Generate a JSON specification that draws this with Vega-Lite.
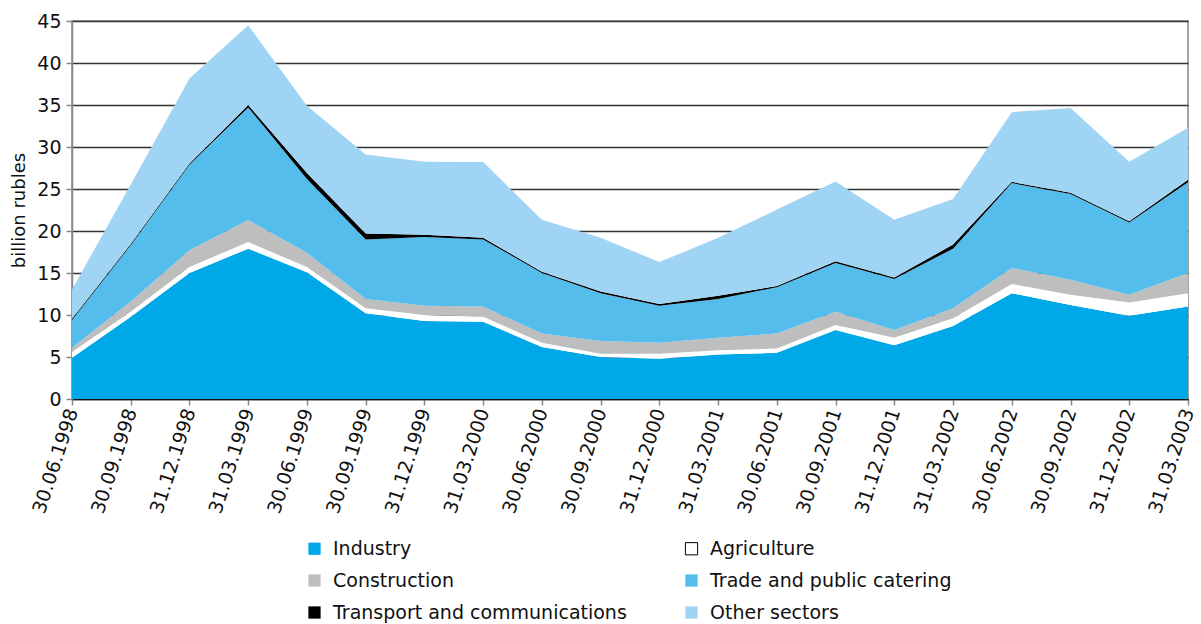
{
  "$schema": "https://vega.github.io/schema/vega-lite/v6.json",
  "width": 1116,
  "height": 378,
  "autosize": {"type": "none"},
  "padding": {"left": 72, "top": 21, "right": 13, "bottom": 225},
  "background": "white",
  "config": {
    "font": "DejaVu Sans",
    "view": {"stroke": "#888888", "strokeWidth": 1.5},
    "axis": {"labelFont": "DejaVu Sans", "titleFont": "DejaVu Sans", "labelColor": "#111111", "titleColor": "#111111", "titleFontWeight": "normal"},
    "legend": {"labelFont": "DejaVu Sans"}
  },
  "data": {
    "values": [
      {"date": "30.06.1998", "Industry": 4.9, "Agriculture": 0.7, "Construction": 0.5, "Trade and public catering": 3.3, "Transport and communications": 0.15, "Other sectors": 3.5},
      {"date": "30.09.1998", "Industry": 9.8, "Agriculture": 0.6, "Construction": 1.2, "Trade and public catering": 6.7, "Transport and communications": 0.15, "Other sectors": 7.1},
      {"date": "31.12.1998", "Industry": 15.0, "Agriculture": 0.7, "Construction": 2.0, "Trade and public catering": 10.2, "Transport and communications": 0.15, "Other sectors": 10.1},
      {"date": "31.03.1999", "Industry": 17.9, "Agriculture": 0.8, "Construction": 2.6, "Trade and public catering": 13.4, "Transport and communications": 0.3, "Other sectors": 9.5},
      {"date": "30.06.1999", "Industry": 15.1, "Agriculture": 0.6, "Construction": 1.7, "Trade and public catering": 8.8, "Transport and communications": 0.7, "Other sectors": 8.0},
      {"date": "30.09.1999", "Industry": 10.2, "Agriculture": 0.6, "Construction": 1.1, "Trade and public catering": 7.1, "Transport and communications": 0.7, "Other sectors": 9.4},
      {"date": "31.12.1999", "Industry": 9.3, "Agriculture": 0.7, "Construction": 1.1, "Trade and public catering": 8.2, "Transport and communications": 0.25, "Other sectors": 8.7},
      {"date": "31.03.2000", "Industry": 9.2, "Agriculture": 0.6, "Construction": 1.2, "Trade and public catering": 8.0, "Transport and communications": 0.2, "Other sectors": 9.0},
      {"date": "30.06.2000", "Industry": 6.2, "Agriculture": 0.5, "Construction": 1.1, "Trade and public catering": 7.2, "Transport and communications": 0.15, "Other sectors": 6.2},
      {"date": "30.09.2000", "Industry": 5.0, "Agriculture": 0.4, "Construction": 1.5, "Trade and public catering": 5.7, "Transport and communications": 0.2, "Other sectors": 6.4},
      {"date": "31.12.2000", "Industry": 4.8, "Agriculture": 0.6, "Construction": 1.3, "Trade and public catering": 4.4, "Transport and communications": 0.2, "Other sectors": 5.0},
      {"date": "31.03.2001", "Industry": 5.3, "Agriculture": 0.5, "Construction": 1.5, "Trade and public catering": 4.6, "Transport and communications": 0.4, "Other sectors": 6.9},
      {"date": "30.06.2001", "Industry": 5.5, "Agriculture": 0.5, "Construction": 1.8, "Trade and public catering": 5.5, "Transport and communications": 0.15, "Other sectors": 9.1},
      {"date": "30.09.2001", "Industry": 8.2, "Agriculture": 0.6, "Construction": 1.6, "Trade and public catering": 5.8, "Transport and communications": 0.2, "Other sectors": 9.5},
      {"date": "31.12.2001", "Industry": 6.4, "Agriculture": 0.9, "Construction": 0.9, "Trade and public catering": 6.1, "Transport and communications": 0.15, "Other sectors": 6.9},
      {"date": "31.03.2002", "Industry": 8.7, "Agriculture": 0.9, "Construction": 1.2, "Trade and public catering": 7.1, "Transport and communications": 0.5, "Other sectors": 5.4},
      {"date": "30.06.2002", "Industry": 12.6, "Agriculture": 1.1, "Construction": 1.9, "Trade and public catering": 10.1, "Transport and communications": 0.15, "Other sectors": 8.3},
      {"date": "30.09.2002", "Industry": 11.2, "Agriculture": 1.2, "Construction": 1.8, "Trade and public catering": 10.2, "Transport and communications": 0.15, "Other sectors": 10.1},
      {"date": "31.12.2002", "Industry": 9.9, "Agriculture": 1.6, "Construction": 0.9, "Trade and public catering": 8.6, "Transport and communications": 0.15, "Other sectors": 7.1},
      {"date": "31.03.2003", "Industry": 11.0, "Agriculture": 1.6, "Construction": 2.4, "Trade and public catering": 10.8, "Transport and communications": 0.3, "Other sectors": 6.2}
    ]
  },
  "transform": [
    {"fold": ["Industry", "Agriculture", "Construction", "Trade and public catering", "Transport and communications", "Other sectors"], "as": ["sector", "value"]},
    {"calculate": "indexof(['Industry', 'Agriculture', 'Construction', 'Trade and public catering', 'Transport and communications', 'Other sectors'], datum.sector)", "as": "stackIndex"}
  ],
  "mark": {"type": "area", "interpolate": "linear"},
  "encoding": {
    "x": {
      "field": "date", "type": "ordinal", "sort": null,
      "scale": {"type": "point", "padding": 0},
      "axis": {
        "title": null, "labelAngle": -72, "labelFontSize": 19, "labelAlign": "right", "labelBaseline": "middle",
        "labelPadding": 4, "tickSize": 6, "tickColor": "#888888", "tickWidth": 1.5,
        "domainColor": "#111111", "domainWidth": 1.5, "grid": false
      }
    },
    "y": {
      "field": "value", "type": "quantitative", "stack": "zero",
      "scale": {"domain": [0, 45], "nice": false},
      "axis": {
        "title": "billion rubles", "titleFontSize": 18, "titlePadding": 8,
        "values": [0, 5, 10, 15, 20, 25, 30, 35, 40, 45],
        "labelFontSize": 19, "labelPadding": 5, "tickSize": 6, "tickColor": "#888888", "tickWidth": 1.5,
        "domainColor": "#888888", "domainWidth": 1.5,
        "grid": true, "gridColor": "#333333", "gridWidth": 1.4
      }
    },
    "color": {
      "field": "sector", "type": "nominal",
      "sort": ["Industry", "Agriculture", "Construction", "Trade and public catering", "Transport and communications", "Other sectors"],
      "scale": {
        "domain": ["Industry", "Agriculture", "Construction", "Trade and public catering", "Transport and communications", "Other sectors"],
        "range": ["#00a8e8", "#ffffff", "#bebebe", "#55bdec", "#000000", "#a0d4f4"]
      },
      "legend": {
        "title": null, "orient": "none", "legendX": 233, "legendY": 518, "columns": 2, "columnPadding": 55,
        "direction": "horizontal",
        "rowPadding": 12, "symbolType": "square", "symbolSize": 150, "labelFontSize": 19, "labelOffset": 9,
        "labelLimit": 500,
        "labelColor": "#111111", "symbolStrokeWidth": 1,
        "encode": {"symbols": {"update": {"stroke": {"signal": "datum.value === 'Agriculture' ? '#000000' : 'transparent'"}}}}
      }
    },
    "order": {"field": "stackIndex", "type": "quantitative", "sort": "ascending"}
  }
}
